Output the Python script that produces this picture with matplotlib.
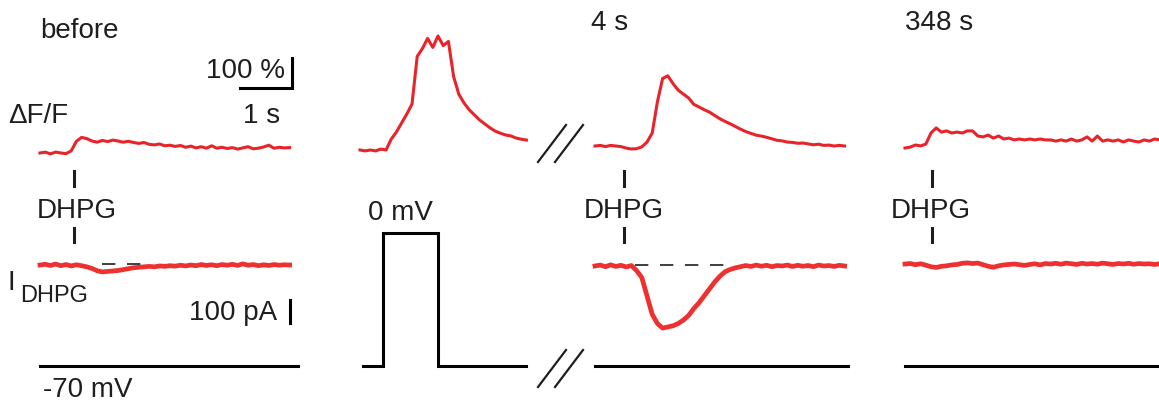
import numpy as np
import matplotlib
matplotlib.use("Agg")
import matplotlib.pyplot as plt
import matplotlib.transforms as mtrans

# sampling step of the typed traces (s)
DT = 0.1

# dF/F traces (%)
df_before = [0, 3, -3, 3, 0, -2, 7, 39, 52, 48, 40, 36, 42, 38, 43, 40, 36, 39, 35, 32,
             35, 29, 27, 30, 24, 26, 22, 25, 19, 23, 17, 21, 16, 24, 16, 19, 15, 18, 13, 17,
             21, 14, 16, 20, 26, 16, 19, 17, 18]
df_step = [0, -3, 0, -3, 3, 0, 36, 60, 90, 120, 153, 312, 338, 372, 342, 380, 348, 362, 245, 186,
           157, 134, 117, 100, 87, 74, 63, 56, 50, 47, 40, 36, 33]
df_4s = [0, 2, -2, 2, 0, -2, -7, -10, -9, -3, 13, 43, 147, 225, 234, 208, 186, 173, 160, 139,
         130, 121, 113, 102, 91, 82, 74, 65, 56, 48, 42, 36, 33, 29, 24, 19, 17, 13, 12, 9,
         10, 7, 4, 6, 2, 3, 0, 2, 0]
df_348s = [0, 3, 10, 7, 13, 50, 67, 53, 57, 50, 53, 50, 57, 57, 40, 37, 43, 33, 40, 30,
           33, 27, 30, 27, 30, 27, 30, 27, 27, 23, 27, 23, 30, 23, 27, 37, 23, 40, 23, 27,
           23, 27, 20, 27, 23, 20, 27, 23, 30, 27]

# DHPG currents (pA)
i_before = [0, 3, -2, 4, -3, 2, -4, 1, -3, -8, -15, -25, -30, -28, -26, -24, -20, -16, -12, -10,
            -8, -6, -8, -4, -6, -3, -5, -1, -4, 0, -3, 2, -2, 1, -3, 2, -1, 3, -2, 5,
            -1, 2, -3, 1, -2, 2, -1, 1, 0]
i_4s = [0, 4, -3, 5, -2, 3, -4, 2, -20, -50, -130, -210, -250, -270, -265, -260, -250, -235, -215, -185,
        -160, -130, -100, -70, -45, -25, -15, -8, -3, 2, -2, 4, -1, 3, -3, 2, 0, 4, -2, 3,
        -1, 2, -3, 4, 0, 2, -2, 3, 0]
i_348s = [0, 2, -3, 1, -5, -12, -15, -10, -8, -4, -2, 3, 5, 2, 4, -3, -10, -14, -8, -4,
          -2, 0, -3, -6, -2, 1, -4, 2, 0, 3, -1, 4, 1, -2, 3, 0, 2, -1, 4, 1,
          -2, 2, 0, 3, -1, 2, 0, 1, -2, 1]

# voltage protocol (mV, s)
v_hold = -70
v_step = 0
step_time = [0.06, 0.44, 0.44, 1.5, 1.5, 3.2]
step_volt = [v_hold, v_hold, v_step, v_step, v_hold, v_hold]
hold_end = [4.96, 4.87, 4.9]

# DHPG application times (s) and baseline-window for dashed lines (s)
dhpg_t = [0.65, 0.56, 0.52]
dash_before = [1.19, 2.06]
dash_4s = [0.77, 2.56]

# pixel scales
PX_S = 52.0
PX_PCT = 0.30
PX_PA = 0.23
PX_MV = 1.9

RED = '#e8242a'
RED_I = '#ee3030'
INK = '#1e1e1e'

plt.rcParams['font.family'] = ['Liberation Sans', 'DejaVu Sans']

fig = plt.figure(figsize=(11.59, 4.04), dpi=100)
ax = fig.add_axes([0, 0, 1, 1])
ax.set_xlim(0, 1159)
ax.set_ylim(404, 0)
ax.axis('off')


def panel(x0, y0, sy):
	# time (s) / value -> figure pixels
	return mtrans.Affine2D().scale(PX_S, -sy).translate(x0, y0) + ax.transData


def tt(v):
	return np.arange(len(v)) * DT


# dF/F
for v, x0, y0 in [(df_before, 40, 153), (df_step, 360, 150), (df_4s, 595, 146), (df_348s, 905, 148)]:
	ax.plot(tt(v), v, color=RED, lw=2.2, solid_joinstyle='round', transform=panel(x0, y0, PX_PCT))

# currents
for v, x0, y0 in [(i_before, 40, 265), (i_4s, 595, 266), (i_348s, 905, 264)]:
	ax.plot(tt(v), v, color=RED_I, lw=3.4, solid_joinstyle='round', transform=panel(x0, y0, PX_PA))

# baseline dashes
ax.plot(dash_before, [0, 0], color=INK, lw=1.2, ls=(0, (8, 7)), transform=panel(40, 264, PX_PA))
ax.plot(dash_4s, [0, 0], color=INK, lw=1.2, ls=(0, (8, 7)), transform=panel(595, 265, PX_PA))

# voltage
for x0, te in zip([40, 595, 905], hold_end):
	ax.plot([0, te], [v_hold, v_hold], color='black', lw=2.2, transform=panel(x0, 233, PX_MV))
ax.plot(step_time, step_volt, color='black', lw=2.2, solid_joinstyle='miter',
	transform=panel(360, 233, PX_MV))

# DHPG marks
for x0, t, xc in zip([40, 595, 905], dhpg_t, [77, 624, 931]):
	tr = mtrans.blended_transform_factory(panel(x0, 0, 1), ax.transData)
	ax.plot([t, t], [171, 186], color=INK, lw=2.2, transform=tr)
	ax.plot([t, t], [228, 242], color=INK, lw=2.2, transform=tr)
	ax.text(xc, 218, 'DHPG', fontsize=20, color=INK, ha='center', va='baseline')

# scale bars
sb = panel(240, 88, PX_PCT)
ax.plot([0, 1, 1], [0, 0, 100], color='black', lw=2.2, solid_joinstyle='miter', transform=sb)
ax.plot([0, 0], [0, 100], color='black', lw=2.2, transform=panel(290, 323, PX_PA))

# break marks
for yb in [162, 387]:
	for dx in [0, 17]:
		ax.plot([538 + dx, 566 + dx], [yb, yb - 37], color=INK, lw=1.6)

# labels
kw = dict(fontsize=20, color=INK, va='baseline')
ax.text(40, 38, 'before', **kw)
ax.text(591, 30, '4 s', **kw)
ax.text(905, 30, '348 s', **kw)
ax.text(285, 78, '100 %', ha='right', **kw)
ax.text(243, 123, '1 s', **kw)
ax.text(8, 123, '\u0394F/F', **kw)
ax.text(368, 220, '0 mV', **kw)
ax.text(8, 290, 'I', **kw)
ax.text(20, 302, 'DHPG', fontsize=17, color=INK, va='baseline')
ax.text(277, 320, '100 pA', ha='right', **kw)
ax.text(43, 397, '-70 mV', **kw)

plt.savefig('out.png', dpi=100)
